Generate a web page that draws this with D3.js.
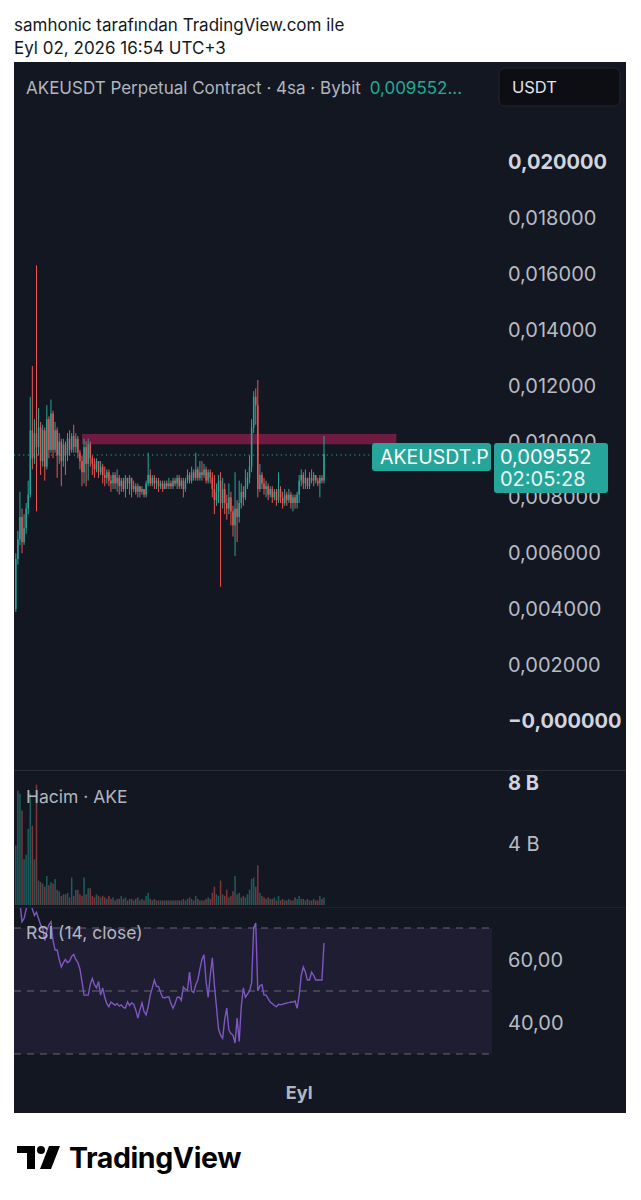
<!DOCTYPE html>
<html><head><meta charset="utf-8">
<script src="https://cdn.jsdelivr.net/npm/d3@7"></script>
<style>html,body{margin:0;padding:0;background:#fff;}svg{display:block;}</style>
</head><body>
<svg id="c" width="641" height="1200"></svg>
<script>
// ---------- DATA ----------
const firstOpen = 0.0040;
const closes = [
0.0058,0.0065,0.0073,0.0064,0.0069,0.0076,0.0081,0.0104,0.0094,0.0103,
0.0098,0.0105,0.0093,0.0104,0.0091,0.0108,0.0097,0.0110,0.0097,0.0104,
0.0095,0.0100,0.0093,0.0099,0.0095,0.0101,0.0097,0.0102,0.0098,0.0101,
0.0096,0.0093,0.0089,0.0098,0.0092,0.0099,0.0094,0.0092,0.0090,0.0093,
0.0089,0.0091,0.0088,0.0087,0.0089,0.0086,0.0085,0.0088,0.0085,0.0087,
0.0084,0.0086,0.0083,0.0087,0.0085,0.0087,0.0083,0.0084,0.0082,0.0084,
0.0082,0.0083,0.0081,0.0085,0.0088,0.0085,0.0087,0.0085,0.0086,0.0084,
0.0085,0.0083,0.0085,0.0084,0.0085,0.0084,0.0086,0.0085,0.0087,0.0084,
0.0086,0.0083,0.0086,0.0088,0.0086,0.0089,0.0087,0.0090,0.0087,0.0089,
0.0088,0.0090,0.0086,0.0089,0.0087,0.0083,0.0079,0.0082,0.0086,0.0078,
0.0083,0.0078,0.0076,0.0080,0.0075,0.0070,0.0076,0.0073,0.0078,0.0082,
0.0080,0.0084,0.0087,0.0091,0.0105,0.0116,0.0113,0.0083,0.0088,0.0085,
0.0083,0.0084,0.0081,0.0083,0.0080,0.0082,0.0079,0.0083,0.0080,0.0078,
0.0081,0.0079,0.0081,0.0078,0.0080,0.0078,0.0081,0.0086,0.0088,0.0085,
0.0087,0.0084,0.0087,0.0086,0.0088,0.0086,0.0085,0.0087,0.0086,0.009552];
const highs = [
0.0060,0.0068,0.0082,0.0076,0.0074,0.0078,0.0086,0.0116,0.0127,0.0108,
0.0163,0.0112,0.0107,0.0106,0.0105,0.0113,0.0109,0.0115,0.0111,0.0107,
0.0105,0.0103,0.0101,0.0101,0.0100,0.0103,0.0104,0.0103,0.0106,0.0103,
0.0102,0.0097,0.0095,0.0101,0.0100,0.0101,0.0100,0.0095,0.0094,0.0094,
0.0093,0.0093,0.0092,0.0091,0.0090,0.0090,0.0088,0.0089,0.0089,0.0090,
0.0088,0.0087,0.0087,0.0088,0.0087,0.0088,0.0087,0.0086,0.0085,0.0085,
0.0084,0.0084,0.0083,0.0086,0.0096,0.0090,0.0088,0.0088,0.0087,0.0087,
0.0086,0.0086,0.0086,0.0086,0.0087,0.0086,0.0087,0.0087,0.0088,0.0088,
0.0087,0.0087,0.0087,0.0090,0.0089,0.0091,0.0090,0.0096,0.0091,0.0093,
0.0093,0.0092,0.0091,0.0090,0.0090,0.0089,0.0088,0.0085,0.0088,0.0089,
0.0087,0.0085,0.0081,0.0085,0.0082,0.0077,0.0089,0.0079,0.0086,0.0085,
0.0084,0.0090,0.0089,0.0095,0.0108,0.0118,0.0119,0.0122,0.0092,0.0089,
0.0087,0.0086,0.0085,0.0084,0.0084,0.0083,0.0083,0.0089,0.0084,0.0082,
0.0083,0.0082,0.0083,0.0082,0.0081,0.0081,0.0082,0.0088,0.0090,0.0089,
0.0090,0.0087,0.0089,0.0090,0.0089,0.0088,0.0087,0.0088,0.0088,0.0102];
const lows = [
0.0039,0.0056,0.0063,0.0060,0.0063,0.0067,0.0074,0.0080,0.0090,0.0092,
0.0075,0.0095,0.0088,0.0091,0.0086,0.0090,0.0094,0.0096,0.0094,0.0096,
0.0087,0.0092,0.0084,0.0091,0.0088,0.0093,0.0095,0.0096,0.0096,0.0096,
0.0094,0.0090,0.0084,0.0085,0.0084,0.0086,0.0091,0.0088,0.0087,0.0089,
0.0087,0.0088,0.0085,0.0084,0.0085,0.0084,0.0082,0.0083,0.0083,0.0082,
0.0081,0.0082,0.0082,0.0080,0.0083,0.0081,0.0080,0.0082,0.0081,0.0080,
0.0080,0.0081,0.0080,0.0080,0.0084,0.0084,0.0084,0.0083,0.0083,0.0082,
0.0083,0.0082,0.0083,0.0083,0.0083,0.0083,0.0083,0.0084,0.0083,0.0083,
0.0083,0.0080,0.0082,0.0085,0.0085,0.0085,0.0086,0.0086,0.0086,0.0086,
0.0086,0.0087,0.0085,0.0085,0.0085,0.0080,0.0074,0.0077,0.0078,0.0048,
0.0076,0.0074,0.0072,0.0074,0.0070,0.0066,0.0059,0.0064,0.0071,0.0076,
0.0077,0.0079,0.0083,0.0085,0.0089,0.0103,0.0106,0.0080,0.0082,0.0083,
0.0081,0.0080,0.0079,0.0080,0.0078,0.0079,0.0077,0.0078,0.0078,0.0076,
0.0077,0.0077,0.0078,0.0076,0.0075,0.0076,0.0076,0.0078,0.0084,0.0083,
0.0083,0.0083,0.0083,0.0085,0.0084,0.0085,0.0084,0.0080,0.0085,0.0085];
// volume in billions (B)
const volumes = [
3.9,7.5,7.3,6.2,3.0,3.3,5.0,7.3,5.2,3.0,
7.9,1.6,1.5,1.4,1.2,1.9,1.3,1.5,1.4,1.7,
1.0,0.9,0.6,0.7,0.7,0.8,0.5,1.8,0.6,1.0,
1.0,0.7,0.6,1.8,0.7,1.1,1.1,0.6,0.5,0.7,
0.6,0.5,0.6,0.5,0.4,0.6,0.4,0.5,0.3,0.4,
0.4,0.6,0.4,0.5,0.3,0.4,0.4,0.3,0.4,0.5,
0.3,0.4,0.3,0.6,0.8,0.4,0.3,0.4,0.3,0.3,
0.3,0.3,0.3,0.3,0.3,0.3,0.3,0.3,0.3,0.3,
0.3,0.4,0.3,0.4,0.5,0.4,0.3,0.6,0.4,0.3,
0.3,0.3,0.4,0.5,0.4,0.8,1.2,0.7,0.6,1.6,
0.7,0.6,1.0,0.5,0.6,0.9,1.9,0.7,0.8,0.5,
0.6,0.5,0.7,1.0,1.7,1.8,1.2,2.6,0.8,0.6,
0.5,0.4,0.5,0.4,0.4,0.5,0.3,0.6,0.3,0.4,
0.3,0.3,0.4,0.3,0.3,0.5,0.4,0.6,0.4,0.4,
0.3,0.4,0.3,0.3,0.4,0.3,0.3,0.6,0.4,0.5];
const rsi = [
80,79,78,72,73,76,78,80,76,74,
75,73,71,70,66,69,71,72,66,63,
63,60,57.6,59,60,59,59.5,61,61.6,60,
59,57,53,48.7,48.7,48.7,52,54,52,51,
53,48.7,51,48,46,45,46.5,46,45.5,46,
45.2,45.6,44.8,44.6,46.5,45.4,46.2,45.8,44,41.4,
44,46.2,43.5,42.4,45,48.7,51,53.5,51.5,51.4,
49.5,48,47.8,48.1,48.1,46,44.5,46,48,48.1,
47,51.3,50.5,50.3,56,50,49.5,52,53.5,57,
60,61.5,53,48,55,60.5,52,45,38,36,
35,41,44.6,37.6,36.5,36,33.5,41.4,34,45,
51,48,49,50,52.5,70,71.6,50,51.6,52,
48.7,48.7,47.6,46.5,46,45.4,45,45.8,45.6,45.8,
46,46.2,46.3,46.5,46.5,46.8,44.5,48.7,55,57.6,
56,53.5,53.5,56,55,53.5,53.5,53.5,53.5,65.2];
const priceTicks = [0.020,0.018,0.016,0.014,0.012,0.010,0.008,0.006,0.004,0.002,0];
const priceTickLabels = ["0,020000","0,018000","0,016000","0,014000","0,012000","0,010000","0,008000","0,006000","0,004000","0,002000","−0,000000"];
const boldPriceTicks = ["0,020000","−0,000000"];
const volTicks = [8,4];
const volTickLabels = ["8 B","4 B"];
const rsiTicks = [60,40];
const rsiTickLabels = ["60,00","40,00"];
const rsiLevels = [70,50,30];
const zone = {startIndex:32, endIndex:184, top:0.01027, bottom:0.00990};
const lastPrice = 0.009552;
const lastPriceLabel = "0,009552";
const countdown = "02:05:28";
const symbolLabel = "AKEUSDT.P";
const timeLabel = {index:137, text:"Eyl"};

// ---------- LAYOUT ----------
const svg = d3.select("#c");
const F = "Inter, 'Noto Sans', sans-serif";
const UP = "#26a69a", DOWN = "#ef5350", BG = "#131722";
const candles = closes.map((c,i)=>({i, o: i===0?firstOpen:closes[i-1], h:highs[i], l:lows[i], c, v:volumes[i], r:rsi[i]}));

svg.append("rect").attr("width",641).attr("height",1200).attr("fill","#fff");
svg.append("text").attr("x",14).attr("y",31).attr("font-family",F).attr("font-size",17).attr("fill","#131722").text("samhonic tarafından TradingView.com ile");
svg.append("text").attr("x",14).attr("y",54).attr("font-family",F).attr("font-size",17).attr("fill","#131722").text("Eyl 02, 2026 16:54 UTC+3");

// panel
svg.append("rect").attr("x",14).attr("y",62).attr("width",612).attr("height",1051).attr("fill",BG);

// top bar
const tb = svg.append("text").attr("x",26).attr("y",94).attr("font-family",F).attr("font-size",17).attr("fill","#b2b5be");
tb.append("tspan").text("AKEUSDT Perpetual Contract · 4sa · Bybit ");
tb.append("tspan").attr("fill","#22ab94").attr("dx",4).text("0,009552...");
svg.append("rect").attr("x",499).attr("y",68).attr("width",121).attr("height",38).attr("rx",6).attr("fill","#0c0e14").attr("stroke","#22262f");
svg.append("text").attr("x",512).attr("y",93).attr("font-family",F).attr("font-size",16.5).attr("fill","#e0e3eb").text("USDT");

// scales
const x = d3.scaleLinear().domain([0,149]).range([15.8,324]);
const y = d3.scaleLinear().domain([0,0.02]).range([721,162]);
const yv = d3.scaleLinear().domain([0,8]).range([905,783]);
const yr = d3.scaleLinear().domain([30,70]).range([1054,928]);
const step = x(1)-x(0);
const bw = Math.max(1, step*0.72);

// price axis labels
svg.append("g").selectAll("text").data(priceTicks).join("text")
  .attr("x",508).attr("y",d=>y(d)+7).attr("font-family",F).attr("font-size",20)
  .attr("font-weight",(d,i)=>boldPriceTicks.includes(priceTickLabels[i])?700:400)
  .attr("fill",(d,i)=>boldPriceTicks.includes(priceTickLabels[i])?"#d1d4dc":"#b8bbc3")
  .text((d,i)=>priceTickLabels[i]);

// zone
svg.append("rect").attr("x",x(zone.startIndex)).attr("y",y(zone.top))
  .attr("width",x(zone.endIndex)-x(zone.startIndex)).attr("height",y(zone.bottom)-y(zone.top))
  .attr("fill","#6f1a41");

// last price dotted line
svg.append("line").attr("x1",14).attr("x2",372).attr("y1",y(lastPrice)+1).attr("y2",y(lastPrice)+1)
  .attr("stroke",UP).attr("stroke-width",1).attr("stroke-dasharray","1.2,3.4");

// candles
const cg = svg.append("g");
cg.selectAll("line").data(candles).join("line")
  .attr("x1",d=>x(d.i)).attr("x2",d=>x(d.i))
  .attr("y1",d=>y(Math.max(d.h,d.o,d.c))).attr("y2",d=>y(Math.min(d.l,d.o,d.c)))
  .attr("stroke",d=>d.c>=d.o?UP:DOWN).attr("stroke-width",1);
cg.selectAll("rect").data(candles).join("rect")
  .attr("x",d=>x(d.i)-bw/2).attr("width",bw)
  .attr("y",d=>y(Math.max(d.o,d.c))).attr("height",d=>Math.max(1,Math.abs(y(d.o)-y(d.c))))
  .attr("fill",d=>d.c>=d.o?UP:DOWN);

// labels for last price
svg.append("rect").attr("x",372).attr("y",443).attr("width",119).attr("height",28).attr("rx",3).attr("fill","#26a69a");
svg.append("text").attr("x",380).attr("y",464).attr("font-family",F).attr("font-size",19.5).attr("fill","#fff").text(symbolLabel);
svg.append("rect").attr("x",494).attr("y",443).attr("width",114).attr("height",50).attr("rx",3).attr("fill","#26a69a");
svg.append("text").attr("x",500).attr("y",464).attr("font-family",F).attr("font-size",20).attr("fill","#fff").text(lastPriceLabel);
svg.append("text").attr("x",500).attr("y",486).attr("font-family",F).attr("font-size",20).attr("fill","#e8f5f3").text(countdown);

// pane separators
svg.append("line").attr("x1",14).attr("x2",626).attr("y1",770.5).attr("y2",770.5).attr("stroke","#2a2e39");
svg.append("line").attr("x1",14).attr("x2",626).attr("y1",907.5).attr("y2",907.5).attr("stroke","#1e222d");

// volume
svg.append("g").selectAll("rect").data(candles).join("rect")
  .attr("x",d=>x(d.i)-bw/2).attr("width",bw)
  .attr("y",d=>yv(d.v)).attr("height",d=>yv(0)-yv(d.v))
  .attr("fill",d=>d.c>=d.o?"rgba(38,166,154,0.5)":"rgba(239,83,80,0.5)");
svg.append("text").attr("x",26).attr("y",803).attr("font-family",F).attr("font-size",17.5).attr("fill","#b2b5be").text("Hacim · AKE");
svg.append("g").selectAll("text").data(volTicks).join("text")
  .attr("x",508).attr("y",d=>yv(d)+7).attr("font-family",F).attr("font-size",20)
  .attr("font-weight",(d,i)=>i===0?700:400).attr("fill",(d,i)=>i===0?"#d1d4dc":"#b8bbc3")
  .text((d,i)=>volTickLabels[i]);

// RSI
svg.append("rect").attr("x",14).attr("y",yr(70)).attr("width",478).attr("height",yr(30)-yr(70)).attr("fill","rgba(126,87,194,0.1)");
svg.append("g").selectAll("line").data(rsiLevels).join("line")
  .attr("x1",14).attr("x2",492).attr("y1",d=>yr(d)).attr("y2",d=>yr(d))
  .attr("stroke","#787b86").attr("stroke-opacity",0.8).attr("stroke-dasharray","7,6");
svg.append("clipPath").attr("id","rclip").append("rect").attr("x",14).attr("y",908).attr("width",612).attr("height",160);
svg.append("path").datum(candles).attr("clip-path","url(#rclip)")
  .attr("d",d3.line().x(d=>x(d.i)).y(d=>yr(d.r)))
  .attr("fill","none").attr("stroke","#7e57c2").attr("stroke-width",1.4);
svg.append("text").attr("x",26).attr("y",939).attr("font-family",F).attr("font-size",17.5).attr("fill","#b2b5be").text("RSI (14, close)");
svg.append("g").selectAll("text").data(rsiTicks).join("text")
  .attr("x",508).attr("y",d=>yr(d)+7).attr("font-family",F).attr("font-size",20).attr("fill","#b8bbc3")
  .text((d,i)=>rsiTickLabels[i]);

// time axis
svg.append("text").attr("x",x(timeLabel.index)).attr("y",1099).attr("text-anchor","middle")
  .attr("font-family",F).attr("font-size",18).attr("font-weight",700).attr("fill","#b2b5be").text(timeLabel.text);

// footer logo
const lg = svg.append("g").attr("fill","#000");
lg.append("path").attr("d","M17,1146 H35 V1169 H27 V1153 H17 Z");
lg.append("circle").attr("cx",41).attr("cy",1150).attr("r",4);
lg.append("path").attr("d","M49,1146 H60 L51,1169 H40 Z");
svg.append("text").attr("x",69).attr("y",1168).attr("font-family",F).attr("font-size",28.5).attr("font-weight",700).attr("letter-spacing",-0.4).attr("fill","#000").text("TradingView");
</script>
</body></html>
